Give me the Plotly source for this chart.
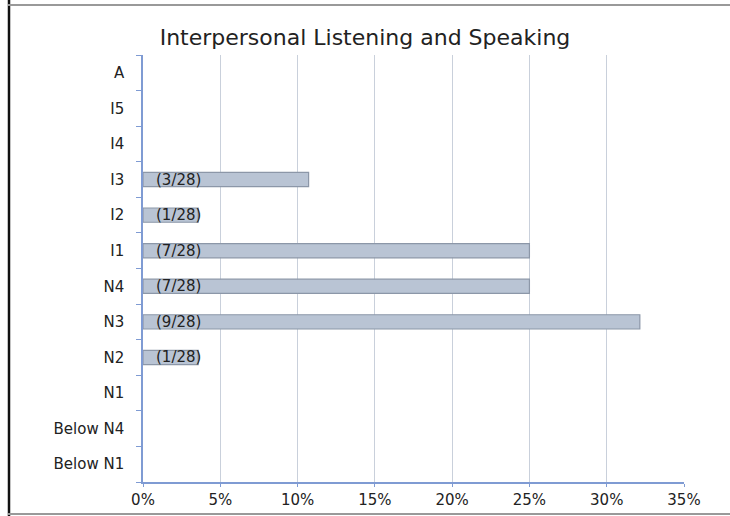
import plotly.graph_objects as go

categories = ["Below N1", "Below N4", "N1", "N2", "N3", "N4", "I1", "I2", "I3", "I4", "I5", "A"]
counts = [0, 0, 0, 1, 9, 7, 7, 1, 3, 0, 0, 0]
total = 28
percents = [c / total * 100 for c in counts]
labels = [f"({c}/{total})" if c > 0 else "" for c in counts]
x_ticks = [0, 5, 10, 15, 20, 25, 30, 35]
x_ticklabels = [f"{v}%" for v in x_ticks]

W, H = 730, 516
L, R, T, B = 143, 46, 55, 34
pw, ph = W - L - R, H - T - B

font = "DejaVu Sans, Liberation Sans, Arial, sans-serif"

fig = go.Figure()
fig.add_trace(go.Bar(
    y=categories, x=percents, orientation="h", width=0.4,
    marker=dict(color="#b9c4d4",
                line=dict(color="#8c97a8", width=[1.2 if c > 0 else 0 for c in counts])),
    hoverinfo="skip", showlegend=False,
))

for cat, lab in zip(categories, labels):
    if lab:
        fig.add_annotation(x=0, y=cat, text=lab, showarrow=False, xanchor="left",
                           xshift=11, font=dict(family=font, size=15, color="#222"))

def px(xp):
    return (xp - L) / pw

def py(yp):
    return 1 - (yp - T) / ph

shapes = [
    dict(type="line", xref="paper", yref="paper", x0=px(9), x1=px(9), y0=py(0), y1=py(516),
         line=dict(color="#111", width=2.5)),
    dict(type="line", xref="paper", yref="paper", x0=px(8), x1=px(730), y0=py(5), y1=py(5),
         line=dict(color="#999", width=2)),
    dict(type="line", xref="paper", yref="paper", x0=px(8), x1=px(730), y0=py(514), y1=py(514),
         line=dict(color="#999", width=2)),
]

fig.update_layout(
    width=W, height=H,
    margin=dict(l=L, r=R, t=T, b=B, autoexpand=False),
    paper_bgcolor="white", plot_bgcolor="white",
    title=dict(text="Interpersonal Listening and Speaking", x=0.5, xref="container", xanchor="center",
               y=1 - 37 / H, yanchor="middle",
               font=dict(family=font, size=22, color="#222")),
    font=dict(family=font, size=15, color="#222"),
    shapes=shapes,
    xaxis=dict(range=[0, 35], tickvals=x_ticks, ticktext=x_ticklabels,
               showgrid=True, gridcolor="#c9d0db", gridwidth=1,
               showline=True, linecolor="#7f9bd3", linewidth=1.5,
               ticks="outside", ticklen=3, tickcolor="#7f9bd3",
               zeroline=False, fixedrange=True),
    yaxis=dict(categoryorder="array", categoryarray=categories,
               showgrid=False, showline=True, linecolor="#7f9bd3", linewidth=1.5,
               ticks="outside", ticklen=5, tickcolor="#7f9bd3", tickson="boundaries",
               ticklabelstandoff=14, fixedrange=True),
)

fig.write_html("out.html", config={"displayModeBar": False},
               post_script="document.body.style.margin='0';")
